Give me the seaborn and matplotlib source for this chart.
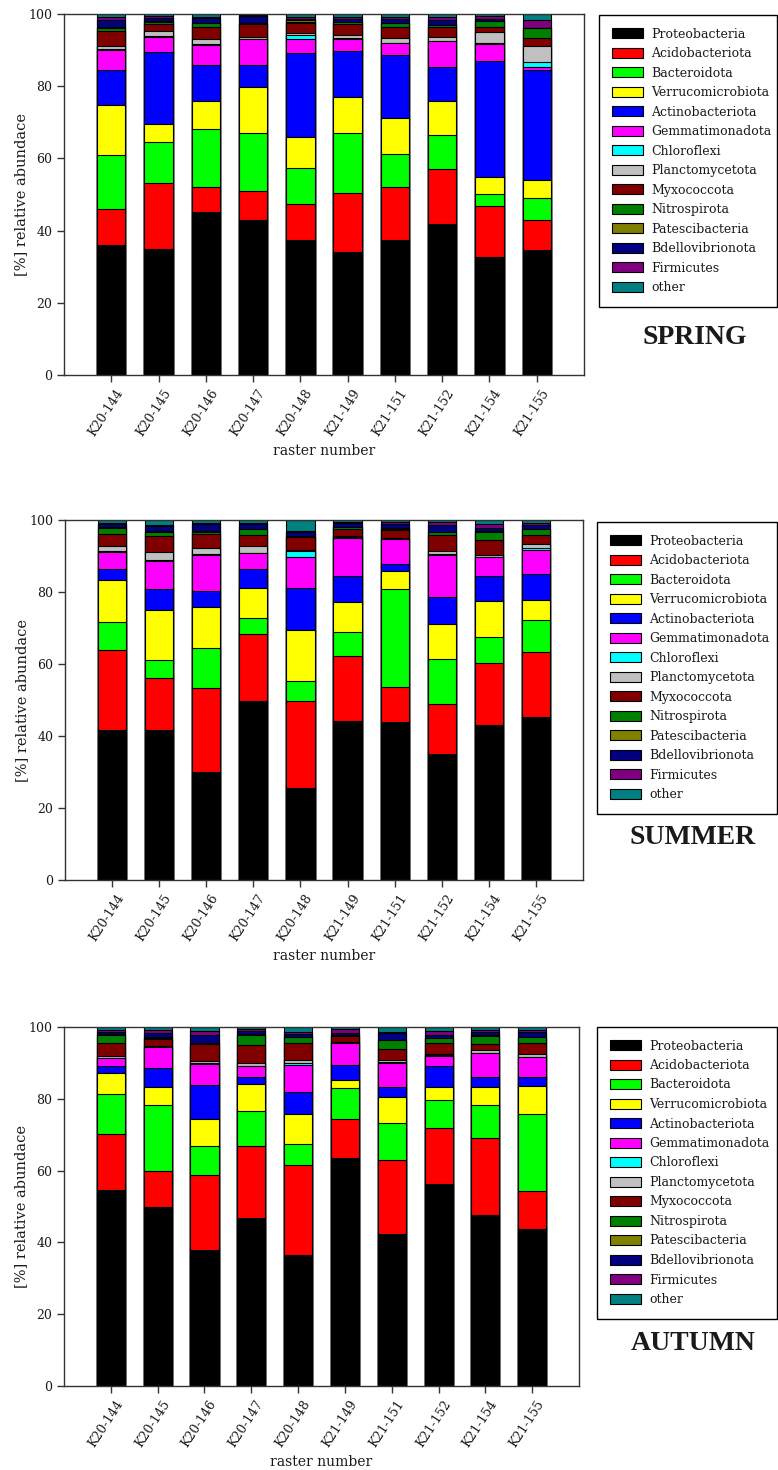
import numpy as np
import pandas as pd
import matplotlib
matplotlib.use("Agg")
import matplotlib.pyplot as plt
from matplotlib.patches import Patch
import seaborn as sns

samples = ["K20-144", "K20-145", "K20-146", "K20-147", "K20-148",
           "K21-149", "K21-151", "K21-152", "K21-154", "K21-155"]

phyla = ["Proteobacteria", "Acidobacteriota", "Bacteroidota", "Verrucomicrobiota",
         "Actinobacteriota", "Gemmatimonadota", "Chloroflexi", "Planctomycetota",
         "Myxococcota", "Nitrospirota", "Patescibacteria", "Bdellovibrionota",
         "Firmicutes", "other"]

phylum_colors = ["#000000", "#ff0000", "#00ff00", "#ffff00", "#0000ff", "#ff00ff",
                 "#00ffff", "#c0c0c0", "#800000", "#008000", "#808000", "#000080",
                 "#800080", "#008080"]

# relative abundance [%] per phylum, one value per sample (order of `samples`)
spring_proteobacteria    = [35.9, 34.8, 45.1, 43.0, 37.3, 34.0, 37.3, 41.9, 32.7, 34.5]
spring_acidobacteriota   = [10.1, 18.3, 7.1, 8.1, 10.2, 16.3, 14.8, 15.1, 14.0, 8.5]
spring_bacteroidota      = [15.0, 11.4, 15.9, 15.9, 9.9, 16.7, 9.2, 9.6, 3.5, 6.1]
spring_verrucomicrobiota = [13.7, 5.0, 7.8, 12.7, 8.5, 9.9, 9.9, 9.4, 4.7, 5.0]
spring_actinobacteriota  = [9.7, 19.9, 9.9, 6.1, 23.2, 12.8, 17.4, 9.4, 32.1, 30.4]
spring_gemmatimonadota   = [5.6, 4.1, 5.7, 7.2, 4.1, 3.3, 3.3, 7.0, 4.6, 0.9]
spring_chloroflexi       = [0.2, 0.5, 0.2, 0.1, 1.1, 0.3, 0.2, 0.1, 0.5, 1.4]
spring_planctomycetota   = [0.9, 1.2, 1.5, 0.6, 0.3, 0.9, 1.3, 1.0, 2.8, 4.3]
spring_myxococcota       = [4.3, 2.0, 3.2, 3.4, 2.8, 3.0, 3.1, 2.9, 1.6, 2.3]
spring_nitrospirota      = [0.8, 0.5, 1.0, 0.2, 0.3, 0.5, 0.9, 0.5, 1.5, 2.6]
spring_patescibacteria   = [0.1, 0.3, 0.2, 0.1, 0.5, 0.2, 0.2, 0.1, 0.1, 0.1]
spring_bdellovibrionota  = [2.0, 0.8, 1.4, 2.0, 0.3, 0.8, 1.0, 1.3, 0.6, 0.1]
spring_firmicutes        = [0.8, 0.6, 0.3, 0.3, 0.7, 0.6, 0.6, 1.0, 0.8, 2.0]
spring_other             = [0.9, 0.6, 0.7, 0.3, 0.8, 0.7, 0.8, 0.7, 0.5, 1.8]

summer_proteobacteria    = [41.7, 41.7, 29.9, 49.6, 25.6, 44.2, 43.8, 34.9, 43.1, 45.3]
summer_acidobacteriota   = [22.1, 14.5, 23.4, 18.8, 24.2, 18.0, 9.9, 14.1, 17.3, 18.0]
summer_bacteroidota      = [7.8, 5.0, 11.1, 4.5, 5.6, 6.8, 27.1, 12.5, 7.2, 8.9]
summer_verrucomicrobiota = [11.7, 13.9, 11.4, 8.3, 14.0, 8.3, 5.0, 9.6, 9.9, 5.7]
summer_actinobacteriota  = [3.2, 5.7, 4.6, 5.3, 11.8, 7.1, 2.1, 7.6, 6.9, 7.2]
summer_gemmatimonadota   = [4.7, 7.9, 10.0, 4.2, 8.5, 10.7, 6.8, 11.7, 5.3, 6.7]
summer_chloroflexi       = [0.1, 0.1, 0.1, 0.1, 1.7, 0.1, 0.1, 0.1, 0.1, 0.5]
summer_planctomycetota   = [1.4, 2.4, 1.8, 2.0, 0.2, 0.3, 0.2, 0.8, 0.5, 0.9]
summer_myxococcota       = [3.3, 4.4, 3.8, 3.0, 3.7, 2.0, 2.3, 4.4, 4.1, 2.7]
summer_nitrospirota      = [1.9, 1.2, 0.6, 1.6, 0.1, 0.5, 0.3, 0.9, 2.4, 1.6]
summer_patescibacteria   = [0.1, 0.2, 0.2, 0.1, 0.1, 0.1, 0.1, 0.1, 0.1, 0.1]
summer_bdellovibrionota  = [0.8, 1.4, 1.9, 1.3, 1.2, 1.0, 1.3, 1.9, 0.8, 1.1]
summer_firmicutes        = [0.3, 0.3, 0.5, 0.4, 0.3, 0.4, 0.4, 0.8, 1.1, 0.5]
summer_other             = [0.9, 1.3, 0.7, 0.8, 3.0, 0.5, 0.6, 0.6, 1.2, 0.8]

autumn_proteobacteria    = [54.6, 50.0, 37.9, 46.7, 36.4, 63.5, 42.4, 56.4, 47.7, 43.8]
autumn_acidobacteriota   = [15.5, 9.8, 20.8, 20.2, 25.1, 10.8, 20.6, 15.5, 21.4, 10.6]
autumn_bacteroidota      = [11.2, 18.5, 8.2, 9.8, 5.8, 8.6, 10.3, 7.9, 9.3, 21.5]
autumn_verrucomicrobiota = [6.0, 5.0, 7.5, 7.4, 8.4, 2.2, 7.3, 3.5, 4.9, 7.8]
autumn_actinobacteriota  = [1.8, 5.4, 9.4, 2.1, 6.2, 4.4, 2.7, 5.8, 2.9, 2.5]
autumn_gemmatimonadota   = [2.3, 5.7, 6.0, 2.8, 7.5, 6.0, 6.8, 2.9, 6.5, 5.4]
autumn_chloroflexi       = [0.1, 0.1, 0.1, 0.2, 0.6, 0.1, 0.1, 0.1, 0.1, 0.1]
autumn_planctomycetota   = [0.3, 0.2, 0.6, 0.8, 0.7, 0.1, 0.5, 0.4, 0.8, 0.9]
autumn_myxococcota       = [3.7, 2.0, 4.8, 4.9, 4.8, 1.9, 3.3, 3.0, 1.8, 2.9]
autumn_nitrospirota      = [2.4, 0.3, 0.2, 3.0, 1.7, 0.2, 2.3, 1.3, 2.2, 1.6]
autumn_patescibacteria   = [0.1, 0.1, 0.1, 0.1, 0.1, 0.1, 0.1, 0.1, 0.1, 0.1]
autumn_bdellovibrionota  = [0.6, 1.2, 2.3, 0.8, 0.8, 0.5, 1.9, 0.8, 0.9, 1.4]
autumn_firmicutes        = [0.5, 0.8, 0.9, 0.6, 0.6, 1.0, 0.4, 1.3, 0.5, 0.5]
autumn_other             = [0.9, 0.9, 1.2, 0.6, 1.3, 0.6, 1.3, 1.0, 0.9, 0.9]

season_names = ["SPRING", "SUMMER", "AUTUMN"]
y_ticks = [0, 20, 40, 60, 80, 100]


def season_table(prefix):
    keys = ["proteobacteria", "acidobacteriota", "bacteroidota", "verrucomicrobiota",
            "actinobacteriota", "gemmatimonadota", "chloroflexi", "planctomycetota",
            "myxococcota", "nitrospirota", "patescibacteria", "bdellovibrionota",
            "firmicutes", "other"]
    g = globals()
    return pd.DataFrame({p: g[f"{prefix}_{k}"] for p, k in zip(phyla, keys)}, index=samples)


tables = [season_table("spring"), season_table("summer"), season_table("autumn")]

sns.set_style("ticks")
plt.rcParams["font.family"] = ["DejaVu Serif"]
plt.rcParams["axes.edgecolor"] = "#333333"
plt.rcParams["xtick.color"] = "#333333"
plt.rcParams["ytick.color"] = "#333333"
plt.rcParams["xtick.labelcolor"] = "#1a1a1a"
plt.rcParams["ytick.labelcolor"] = "#1a1a1a"
plt.rcParams["text.color"] = "#1a1a1a"
plt.rcParams["axes.labelcolor"] = "#1a1a1a"

W, H = 778, 1470
fig = plt.figure(figsize=(W / 100, H / 100), dpi=100)

# panel boxes in pixels: left, top, right, bottom
panels = [(64, 14, 584, 375), (65, 520, 583, 880), (64, 1027, 579, 1386)]
legend_boxes = [(599, 15, 777), (597, 522, 777), (597, 1027, 777)]
title_pos = [(695, 338), (693, 837), (693, 1344)]

for table, name, (l, t, r, b), (lx, ly, lr), (tx, ty) in zip(
        tables, season_names, panels, legend_boxes, title_pos):
    ax = fig.add_axes([l / W, 1 - b / H, (r - l) / W, (b - t) / H])
    cum = table.cumsum(axis=1)
    # draw cumulative heights from the top segment downwards so that each
    # lower segment covers the part of the bars drawn before it
    for phylum, color in reversed(list(zip(phyla, phylum_colors))):
        sns.barplot(x=samples, y=cum[phylum].values, order=samples, color=color,
                    saturation=1, width=0.6, edgecolor="black", linewidth=0.8,
                    errorbar=None, ax=ax)
    ax.set_xlim(-1.0, 10.0)
    ax.set_ylim(0, 100)
    ax.set_yticks(y_ticks)
    ax.tick_params(axis="both", direction="out", length=5, width=1, labelsize=9)
    ax.set_xticks(range(len(samples)))
    ax.set_xticklabels(samples, rotation=57, ha="right", va="top",
                       rotation_mode="anchor")
    for lab in ax.get_xticklabels():
        lab.set_transform(lab.get_transform() +
                          matplotlib.transforms.ScaledTranslation(4 / 100, 0, fig.dpi_scale_trans))
    ax.set_xlabel("raster number", fontsize=10, labelpad=4)
    ax.set_ylabel("[%] relative abundace", fontsize=10.5, labelpad=0)
    for s in ax.spines.values():
        s.set_linewidth(1)
        s.set_visible(True)

    handles = [Patch(facecolor=c, edgecolor="black", linewidth=0.8) for c in phylum_colors]
    leg = fig.legend(handles, phyla, loc="upper left",
                     bbox_to_anchor=(lx / W, 1 - ly / H - 0.2, (lr - lx) / W, 0.2),
                     mode="expand", frameon=True, fancybox=False, framealpha=1,
                     edgecolor="black", prop={"family": "DejaVu Serif", "size": 9},
                     handlelength=2.5, handleheight=0.88, handletextpad=0.7,
                     labelspacing=0.52, borderpad=1.0, borderaxespad=0)
    leg.get_frame().set_linewidth(1)
    fig.text(tx / W, 1 - ty / H, name, ha="center", va="center",
             fontsize=20, fontweight="bold", family="Liberation Serif")

fig.savefig("out.png", dpi=100)
